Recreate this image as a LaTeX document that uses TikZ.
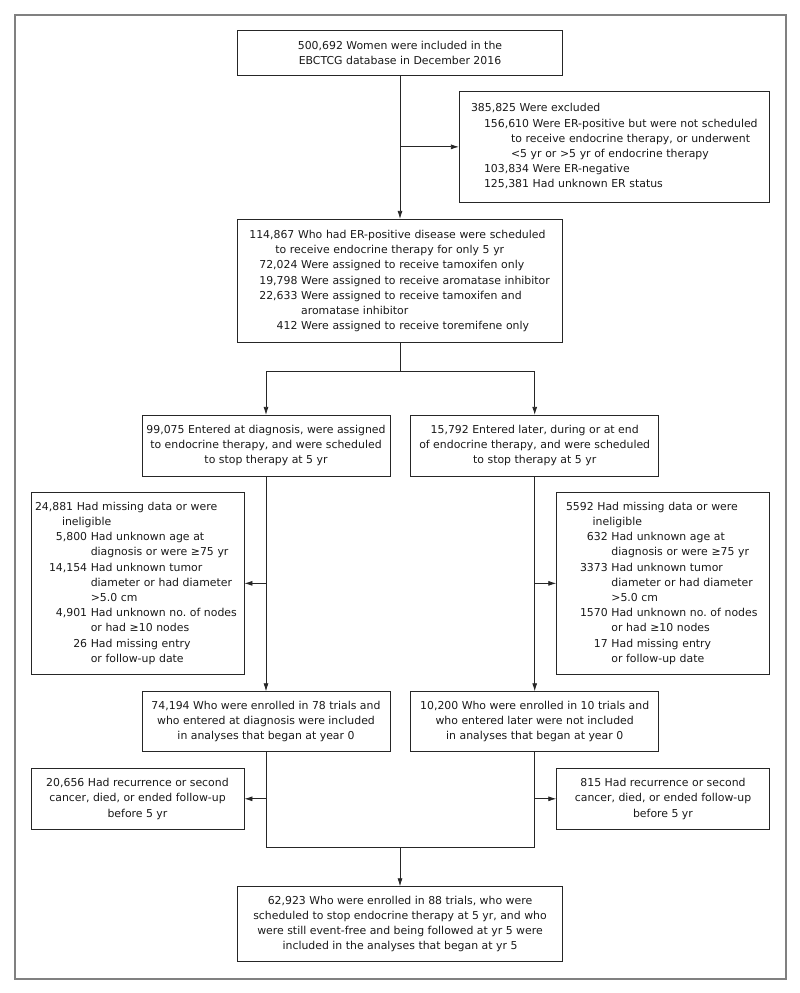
\documentclass[tikz,border=0pt]{standalone}
\usepackage{fontspec}
\setmainfont{DejaVu Sans}
\usetikzlibrary{positioning,arrows.meta}

\begin{document}
\begin{tikzpicture}[x=1pt,y=1pt]
%% Fix page size and draw outer frame
\useasboundingbox (0,0) rectangle (800,-993);
\draw[line width=1.6pt,black!50] (14.7,-14.7) rectangle (785.7,-978.7);

%% Draw flow diagram
  \begin{scope}[line width=0.8pt,black!85,
       node distance=100pt,on grid,>={Latex[length=8pt,width=5pt]},
       recuadro/.style={rectangle,draw,align=center,text=black!90,
         font=\fontsize{10.9}{15.2}\selectfont\frenchspacing},
       listado/.style={recuadro,align=left,inner xsep=#1},]
   \node [recuadro,minimum width=324.7pt,minimum height=44.3pt] (base) at (400,-52.85)
     {500,692 Women were included in the\\EBCTCG database in December 2016};
   \node [listado=11.7pt,text width=286.6pt,minimum height=110.3pt] (excluidos) [below=94pt of base,xshift=214.3pt]
     {\begin{tabular}{@{}l@{}}
      385,825 Were excluded\\
      \hspace*{13pt}156,610 Were ER-positive but were not scheduled\\
      \hspace*{40pt}to receive endocrine therapy, or underwent\\
      \hspace*{40pt}<5 yr or >5 yr of endocrine therapy\\
      \hspace*{13pt}103,834 Were ER-negative\\
      \hspace*{13pt}125,381 Had unknown ER status
      \end{tabular}};
   \node [listado=11.7pt,text width=301.3pt,minimum height=123.4pt] (erpos) [below=228.15pt of base]
     {\begin{tabular}{@{\hspace{10pt}}r@{\ }l@{}}
      \multicolumn{2}{@{}l@{}}{114,867 Who had ER-positive disease were scheduled}\\
      \multicolumn{2}{@{}l@{}}{\hspace*{26pt}to receive endocrine therapy for only 5 yr}\\
      72,024 & Were assigned to receive tamoxifen only\\
      19,798 & Were assigned to receive aromatase inhibitor\\
      22,633 & Were assigned to receive tamoxifen and\\
             & aromatase inhibitor\\
      412    & Were assigned to receive toremifene only
      \end{tabular}};
   \draw[->] (base) -- (erpos);
   \draw[->] (base.south |- excluidos.west) -- (excluidos.west);

    \node [recuadro,minimum width=248pt,minimum height=60.7pt] (diag) [below=164.65pt of erpos,xshift=-134pt]
      {99,075 Entered at diagnosis, were assigned\\to endocrine therapy, and were scheduled\\to stop therapy at 5 yr};
    \node [recuadro,minimum width=248pt,minimum height=60.7pt] (tarde) [right=268.7pt of diag]
      {15,792 Entered later, during or at end\\of endocrine therapy, and were scheduled\\to stop therapy at 5 yr};
   \draw (erpos.south) -- ++(0,-28.3) coordinate (reparto);
   \draw[->] (reparto) -| (diag.north);
   \draw[->] (reparto) -| (tarde.north);

    \node [listado=4pt,text width=205pt,minimum height=181.3pt] (faltan1) [below=137.7pt of diag,xshift=-128.5pt]
      {\begin{tabular}{@{\hspace{14pt}}r@{\ }l@{}}
       \multicolumn{2}{@{}l@{}}{24,881 Had missing data or were}\\
       \multicolumn{2}{@{}l@{}}{\hspace*{27pt}ineligible}\\
       5,800  & Had unknown age at\\
              & diagnosis or were ≥75 yr\\
       14,154 & Had unknown tumor\\
              & diameter or had diameter\\
              & >5.0 cm\\
       4,901  & Had unknown no. of nodes\\
              & or had ≥10 nodes\\
       26     & Had missing entry\\
              & or follow-up date
       \end{tabular}};
    \node [listado=9.3pt,text width=194pt,minimum height=181.3pt] (faltan2) [below=137.7pt of tarde,xshift=128.3pt]
      {\begin{tabular}{@{\hspace{14pt}}r@{\ }l@{}}
       \multicolumn{2}{@{}l@{}}{5592 Had missing data or were}\\
       \multicolumn{2}{@{}l@{}}{\hspace*{26.7pt}ineligible}\\
       632  & Had unknown age at\\
            & diagnosis or were ≥75 yr\\
       3373 & Had unknown tumor\\
            & diameter or had diameter\\
            & >5.0 cm\\
       1570 & Had unknown no. of nodes\\
            & or had ≥10 nodes\\
       17   & Had missing entry\\
            & or follow-up date
       \end{tabular}};

    \node [recuadro,minimum width=248pt,minimum height=59.3pt] (an0) [below=275.7pt of diag]
      {74,194 Who were enrolled in 78 trials and\\who entered at diagnosis were included\\in analyses that began at year 0};
    \node [recuadro,minimum width=248pt,minimum height=59.3pt] (no0) [below=275.7pt of tarde]
      {10,200 Who were enrolled in 10 trials and\\who entered later were not included\\in analyses that began at year 0};
   \draw[->] (diag) -- (an0);
   \draw[->] (tarde) -- (no0);
   \draw[->] (diag.south |- faltan1.east) -- (faltan1.east);
   \draw[->] (tarde.south |- faltan2.west) -- (faltan2.west);

    \node [recuadro,minimum width=213pt,minimum height=61pt] (recur1) [below=77.45pt of an0,xshift=-128.5pt]
      {20,656 Had recurrence or second\\cancer, died, or ended follow-up\\before 5 yr};
    \node [recuadro,minimum width=212.6pt,minimum height=61pt] (recur2) [below=77.45pt of no0,xshift=128.3pt]
      {815 Had recurrence or second\\cancer, died, or ended follow-up\\before 5 yr};
    \node [recuadro,minimum width=324.3pt,minimum height=74.6pt] (an5) [below=643pt of erpos]
      {62,923 Who were enrolled in 88 trials, who were\\scheduled to stop endocrine therapy at 5 yr, and who\\were still event-free and being followed at yr 5 were\\included in the analyses that began at yr 5};
   \draw[->] (an0.south |- recur1.east) -- (recur1.east);
   \draw[->] (no0.south |- recur2.west) -- (recur2.west);
   \draw (an0.south) -- ++(0,-95.7) coordinate (union) -| (no0.south);
   \draw[->] (union -| an5.north) -- (an5.north);
       \end{scope}
\end{tikzpicture}
\end{document}
